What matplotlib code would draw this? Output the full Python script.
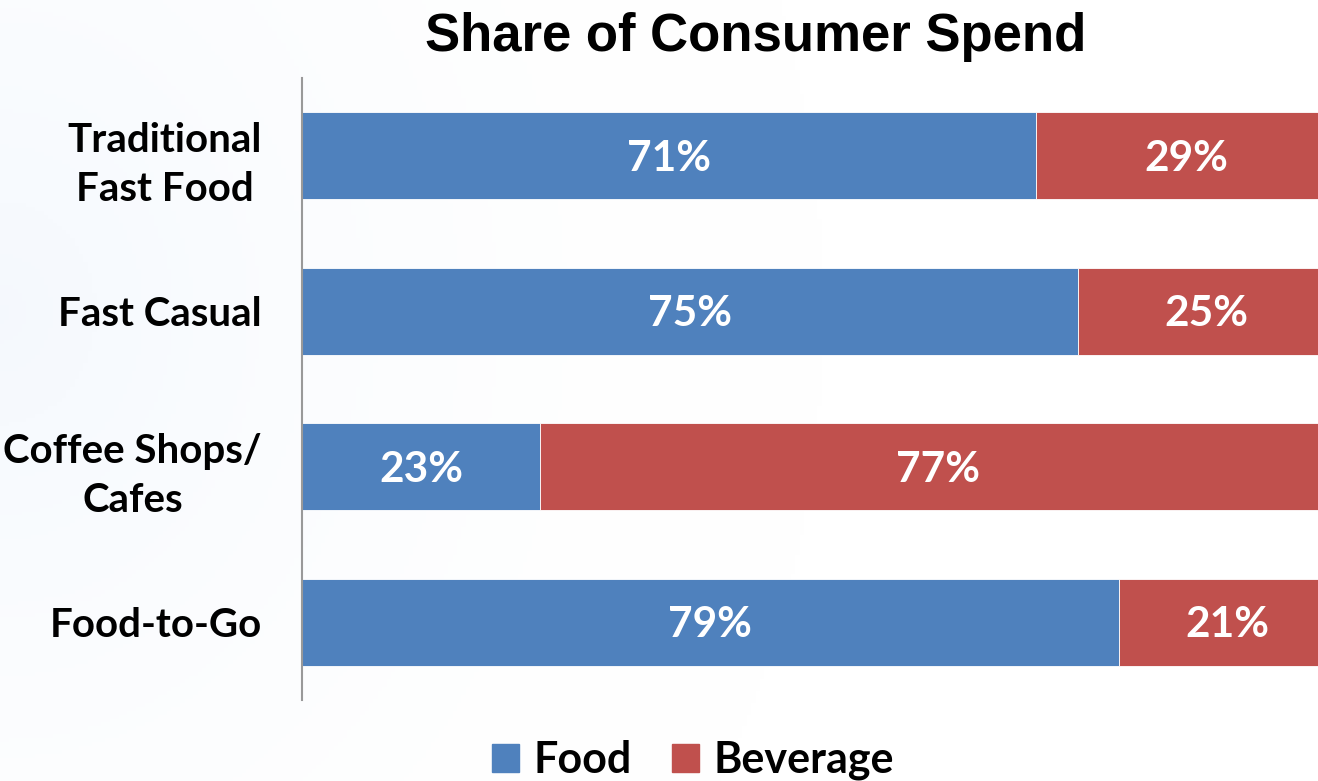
import numpy as np
import matplotlib.pyplot as plt
from matplotlib.patches import Patch

plt.rcParams['font.family'] = 'Lato'
plt.rcParams['font.weight'] = 'bold'

categories = ['Traditional\nFast Food', 'Fast Casual', 'Coffee Shops/\nCafes', 'Food-to-Go']
food = [71, 75, 23, 79]
beverage = [29, 25, 77, 21]
series_names = ['Food', 'Beverage']

blue = '#4F81BD'
red = '#C0504D'

fig = plt.figure(figsize=(13.18, 7.81), dpi=100)

# faint background wash, slightly blue on the left
bg = fig.add_axes([0, 0, 1, 1], zorder=-10)
gx = np.linspace(0, 1, 300)
gy = np.linspace(0, 1, 200)
X, Y = np.meshgrid(gx, gy)
wash = np.clip(1 - np.hypot(X * 1.6, (Y - 0.4) * 0.8), 0, 1) ** 2
img = np.ones((200, 300, 3))
img[..., 0] -= wash * 0.04
img[..., 1] -= wash * 0.025
img[..., 2] -= wash * 0.005
bg.imshow(img, aspect='auto', extent=[0, 1, 0, 1], origin='upper')
bg.axis('off')

ax = fig.add_axes([302 / 1318, 81 / 781, 1034 / 1318, 622 / 781])
ax.patch.set_alpha(0)

y = np.arange(len(categories))
food_frac = np.array(food) / 100
bev_frac = np.array(beverage) / 100
b1 = ax.barh(y, food_frac, height=0.56, color=blue, edgecolor='white', linewidth=0.6)
b2 = ax.barh(y, bev_frac, left=food_frac, height=0.56, color=red, edgecolor='white', linewidth=0.6)

for bars, vals in ((b1, food), (b2, beverage)):
    for bar, v in zip(bars, vals):
        ax.text(bar.get_x() + bar.get_width() / 2, bar.get_y() + bar.get_height() / 2 + 0.02,
                f'{v}%', ha='center', va='center', color='white',
                fontsize=30.5, fontweight='bold')

ax.set_xlim(0, 1)
ax.set_ylim(len(categories) - 0.5, -0.5)
ax.set_yticks(y)
ax.set_yticklabels(categories, fontsize=29, fontweight='bold', linespacing=1.38,
                   multialignment='center')
ax.tick_params(axis='y', length=0, pad=29)
ax.set_xticks([])
for s in ['top', 'right', 'bottom']:
    ax.spines[s].set_visible(False)
ax.spines['left'].set_color('#999999')
ax.spines['left'].set_linewidth(1.5)

fig.text(756 / 1318, 1 - 37 / 781, 'Share of Consumer Spend', ha='center', va='center',
         fontsize=38, fontweight='bold', family='Liberation Sans')

handles = [Patch(color=blue), Patch(color=red)]
fig.legend(handles, series_names, loc='center', bbox_to_anchor=(693 / 1318, 1 - 760 / 781),
           ncol=2, frameon=False, fontsize=31, handlelength=0.63, handleheight=0.63,
           handletextpad=0.33, columnspacing=0.95)

plt.savefig('out.png', dpi=100)
